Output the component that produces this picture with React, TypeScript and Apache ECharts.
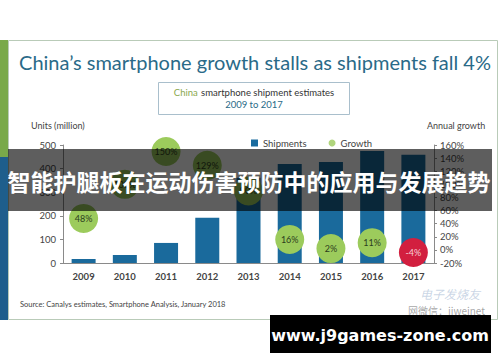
import React, { useEffect, useRef } from "react";
import * as echarts from "echarts";

const years = ["2009", "2010", "2011", "2012", "2013", "2014", "2015", "2016", "2017"];
const shipments = [17, 34, 85, 192, 361, 419, 428, 475, 459];
const growth = [48, 100, 150, 129, 90, 16, 2, 11, -4];
const leftAxis = { min: 0, max: 500, interval: 100 };
const rightAxis = { min: -20, max: 160, interval: 20 };

const titleText = "China\u2019s smartphone growth stalls as shipments fall 4%";
const bannerText = "智能护腿板在运动伤害预防中的应用与发展趋势";
const siteText = "www.j9games-zone.com";
const sourceText = "Source: Canalys estimates, Smartphone Analysis, January 2018";

const FONT = "Lato, 'Open Sans', sans-serif";

export default function App() {
  const ref = useRef<HTMLDivElement>(null);
  useEffect(() => {
    if (!ref.current) return;
    const chart = echarts.init(ref.current, null, { renderer: "svg" });
    const green = "#9ccb5c";
    const red = "#d21f3f";
    chart.setOption({
      animation: false,
      backgroundColor: "#ffffff",
      textStyle: { fontFamily: FONT },
      grid: { left: 63, right: 66, top: 145, bottom: 99 },
      legend: {
        left: 246,
        top: 133,
        itemWidth: 7,
        itemHeight: 7,
        itemGap: 22,
        textStyle: { fontSize: 9.5, color: "#444", fontFamily: FONT },
        data: [
          { name: "Shipments", icon: "rect", itemStyle: { color: "#196b9e" } },
          { name: "Growth", icon: "circle", itemStyle: { color: green } },
        ],
      },
      xAxis: {
        type: "category",
        data: years,
        axisLine: { lineStyle: { color: "#8a8a8a" } },
        axisTick: { show: false },
        axisLabel: { fontSize: 9.5, color: "#444", fontWeight: "bold", margin: 8, fontFamily: FONT },
      },
      yAxis: [
        {
          type: "value",
          ...leftAxis,
          splitLine: { show: false },
          axisLine: { show: true, lineStyle: { color: "#8a8a8a" } },
          axisTick: { show: true, length: 3, lineStyle: { color: "#8a8a8a" } },
          axisLabel: { fontSize: 9.5, color: "#444", margin: 7, fontFamily: FONT },
        },
        {
          type: "value",
          ...rightAxis,
          position: "right",
          splitLine: { show: false },
          axisLine: { show: true, lineStyle: { color: "#8a8a8a" } },
          axisTick: { show: true, length: 3, lineStyle: { color: "#8a8a8a" } },
          axisLabel: { fontSize: 9.5, color: "#444", margin: 6, formatter: "{value}%", fontFamily: FONT },
        },
      ],
      series: [
        {
          name: "Shipments",
          type: "bar",
          data: shipments,
          barWidth: 24,
          itemStyle: { color: "#1a6a9c" },
          z: 2,
        },
        {
          name: "Growth",
          type: "scatter",
          yAxisIndex: 1,
          symbolSize: 29,
          z: 3,
          data: growth.map((v) => ({
            value: v,
            itemStyle: { color: v < 0 ? red : green, opacity: 1 },
            label: { color: v < 0 ? "#f6cfd6" : "#2c3d1c" },
          })),
          label: {
            show: true,
            position: "inside",
            formatter: (p: any) => p.value + "%",
            fontSize: 9,
            fontFamily: FONT,
          },
        },
      ],
      graphic: [
        { type: "rect", z: -10, shape: { x: 8.5, y: 40.5, width: 489, height: 279 }, style: { fill: "#fff", stroke: "#b9cbb8", lineWidth: 1 } },
        { type: "rect", z: -9, shape: { x: 0, y: 40, width: 8, height: 117 }, style: { fill: "#79a94a" } },
        { type: "rect", z: -9, shape: { x: 0, y: 157, width: 8, height: 163 }, style: { fill: "#1e5e8c" } },
        { type: "text", z: 5, x: 255, y: 62, style: { text: titleText, fill: "#2a6a88", fontSize: 20, fontFamily: FONT, align: "center", verticalAlign: "middle" } },
        { type: "rect", z: 5, shape: { x: 158.5, y: 82.5, width: 191, height: 32 }, style: { fill: "#fff", stroke: "#a9bfcc", lineWidth: 1 } },
        {
          type: "text", z: 6, x: 254, y: 92,
          style: {
            text: "{g|China} {d|smartphone shipment estimates}",
            align: "center", verticalAlign: "middle",
            rich: {
              g: { fill: "#8aa84e", fontSize: 9.5, fontFamily: FONT },
              d: { fill: "#333", fontSize: 9.5, fontFamily: FONT },
            },
          },
        },
        { type: "text", z: 6, x: 254, y: 104, style: { text: "2009 to 2017", fill: "#2a6a88", fontSize: 9.5, fontFamily: FONT, align: "center", verticalAlign: "middle" } },
        { type: "text", z: 5, x: 31, y: 125, style: { text: "Units (million)", fill: "#444", fontSize: 9, fontFamily: FONT, verticalAlign: "middle" } },
        { type: "text", z: 5, x: 427, y: 125, style: { text: "Annual growth", fill: "#444", fontSize: 9, fontFamily: FONT, verticalAlign: "middle" } },
        { type: "text", z: 5, x: 20, y: 304, style: { text: sourceText, fill: "#444", fontSize: 7.5, fontFamily: FONT, verticalAlign: "middle" } },
        { type: "text", z: 5, x: 420, y: 293, style: { text: "电子发烧友", fill: "rgba(120,150,190,0.4)", fontSize: 12, fontStyle: "italic", fontFamily: "'Noto Sans CJK SC', sans-serif", verticalAlign: "middle" } },
        { type: "text", z: 5, x: 408, y: 310, style: { text: "网微信：jiweinet", fill: "rgba(90,90,90,0.55)", fontSize: 10, fontFamily: "'Noto Sans CJK SC', sans-serif", verticalAlign: "middle" } },
        { type: "rect", z: 100, shape: { x: 8, y: 149, width: 484, height: 62 }, style: { fill: "rgba(0,0,0,0.63)" } },
        { type: "text", z: 101, x: 249, y: 181, style: { text: bannerText, fill: "#fff", fontSize: 23, fontWeight: "bold", fontFamily: "'Noto Sans CJK SC', sans-serif", align: "center", verticalAlign: "middle" } },
        { type: "rect", z: 100, shape: { x: 270, y: 315, width: 221, height: 38 }, style: { fill: "#000" } },
        { type: "text", z: 101, x: 380, y: 335, style: { text: siteText, fill: "#fff", fontSize: 16, fontWeight: "bold", fontFamily: "'DejaVu Sans', sans-serif", align: "center", verticalAlign: "middle" } },
      ],
    });
    return () => chart.dispose();
  }, []);
  return <div ref={ref} style={{ position: "fixed", left: 0, top: 0, width: 500, height: 362 }} />;
}
